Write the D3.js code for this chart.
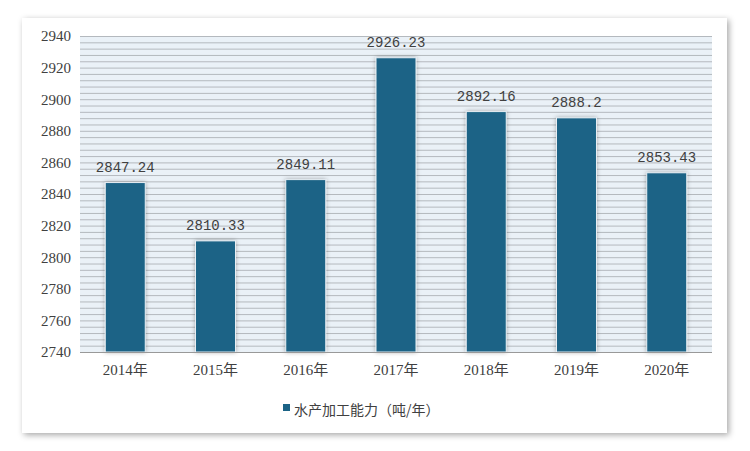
<!DOCTYPE html>
<html><head><meta charset="utf-8">
<script src="https://cdn.jsdelivr.net/npm/d3@7"></script>
<style>body{margin:0;background:#fff}</style>
</head><body><div id="chart"></div>
<script>
const years = ['2014年','2015年','2016年','2017年','2018年','2019年','2020年'];
const values = [2847.24, 2810.33, 2849.11, 2926.23, 2892.16, 2888.2, 2853.43];
const labels = ['2847.24','2810.33','2849.11','2926.23','2892.16','2888.2','2853.43'];
const yTicks = [2740,2760,2780,2800,2820,2840,2860,2880,2900,2920,2940];

const W = 750, H = 451;
const svg = d3.select('#chart').append('svg').attr('width', W).attr('height', H);
const defs = svg.append('defs');
const f = defs.append('filter').attr('id','sh').attr('x','-10%').attr('y','-10%').attr('width','120%').attr('height','120%');
f.append('feDropShadow').attr('dx',2).attr('dy',2).attr('stdDeviation',3).attr('flood-color','#000').attr('flood-opacity',0.35);
const fb = defs.append('filter').attr('id','bs').attr('x','-30%').attr('y','-10%').attr('width','160%').attr('height','120%');
fb.append('feDropShadow').attr('dx',0).attr('dy',0).attr('stdDeviation',2).attr('flood-color','#000').attr('flood-opacity',0.3);

svg.append('rect').attr('x',22).attr('y',18).attr('width',705).attr('height',415)
  .attr('fill','#fff').attr('filter','url(#sh)');

const m = {l:80, r:712, t:36, b:352};
const x = d3.scaleBand().domain(years).range([m.l, m.r]).paddingInner(0.557).paddingOuter(0.28);
const y = d3.scaleLinear().domain([2740, 2940]).range([m.b, m.t]);

svg.append('rect').attr('x',m.l).attr('y',m.t).attr('width',m.r-m.l).attr('height',m.b-m.t).attr('fill','#eaf1f7');
svg.append('g').selectAll('line').data(d3.range(2740, 2941, 4)).join('line')
  .attr('x1',m.l).attr('x2',m.r).attr('y1',d=>y(d)+0.5).attr('y2',d=>y(d)+0.5)
  .attr('stroke','#b4b9be').attr('stroke-width',1);

svg.append('g').selectAll('rect').data(values).join('rect')
  .attr('x',(d,i)=>x(years[i])).attr('width',x.bandwidth())
  .attr('y',d=>y(d)).attr('height',d=>m.b-y(d))
  .attr('fill','#1b6386').attr('stroke','#e8eef3').attr('stroke-width',1).attr('filter','url(#bs)');

svg.append('line').attr('x1',m.l).attr('x2',m.r).attr('y1',m.b+0.5).attr('y2',m.b+0.5).attr('stroke','#999');

svg.append('g').selectAll('text').data(values).join('text')
  .attr('x',(d,i)=>x(years[i])+x.bandwidth()/2).attr('y',d=>y(d)-11)
  .attr('text-anchor','middle').attr('font-family','Liberation Mono, monospace').attr('font-size',14)
  .attr('fill','#404040').text((d,i)=>labels[i]);

const yAxis = d3.axisLeft(y).tickValues(yTicks).tickSize(0).tickPadding(9).tickFormat(d3.format('d'));
const ga = svg.append('g').attr('transform',`translate(${m.l},0)`).call(yAxis);
ga.select('.domain').remove();
ga.selectAll('text').attr('font-family','Liberation Serif, serif').attr('font-size',15).attr('fill','#404040');

const xAxis = d3.axisBottom(x).tickSize(0).tickPadding(12);
const gx = svg.append('g').attr('transform',`translate(0,${m.b})`).call(xAxis);
gx.select('.domain').remove();
gx.selectAll('text').attr('font-family','Liberation Serif, Noto Sans CJK SC, serif').attr('font-size',15).attr('fill','#404040');

const lg = svg.append('g').attr('transform','translate(283,410)');
lg.append('rect').attr('x',0).attr('y',-6).attr('width',7).attr('height',7).attr('fill','#1b6386');
lg.append('text').attr('x',11).attr('y',0).attr('dy','0.35em').attr('font-family','Noto Sans CJK SC, sans-serif')
  .attr('font-size',14).attr('fill','#404040').text('水产加工能力（吨/年）');
</script></body></html>
